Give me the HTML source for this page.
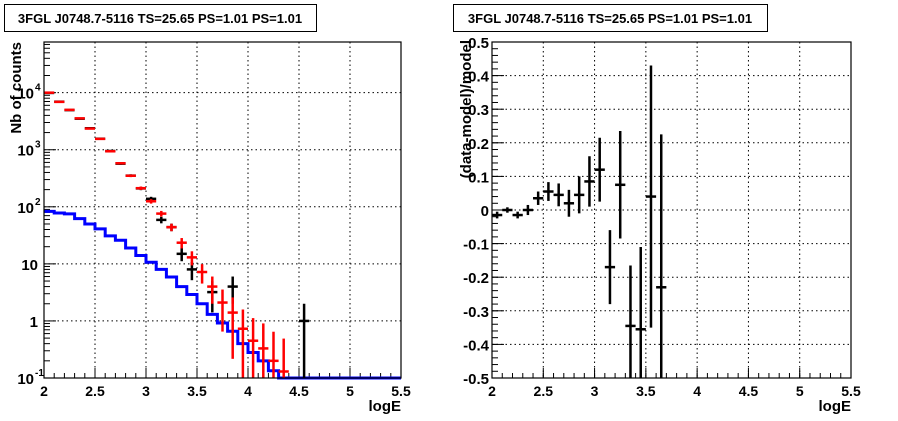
<!DOCTYPE html>
<html><head><meta charset="utf-8"><style>
html,body{margin:0;padding:0;background:#fff;}
svg{display:block;font-family:"Liberation Sans",Arial,sans-serif;font-weight:bold;}
</style></head><body>
<svg id="c" width="898" height="421" viewBox="0 0 898 421" xmlns="http://www.w3.org/2000/svg">
<rect x="0" y="0" width="898" height="421" fill="#fff"/>
<rect x="4.5" y="4.5" width="312" height="27" fill="#fff" stroke="#000"/>
<text x="160" y="23" font-size="13" text-anchor="middle">3FGL J0748.7-5116 TS=25.65 PS=1.01 PS=1.01</text>
<rect x="453.5" y="4.5" width="314" height="27" fill="#fff" stroke="#000"/>
<text x="610" y="23" font-size="13" text-anchor="middle">3FGL J0748.7-5116 TS=25.65 PS=1.01 PS=1.01</text>
<g id="L"></g>
<g id="R"></g>
</svg>
<script>
const binCenters=[2.05,2.15,2.25,2.35,2.45,2.55,2.65,2.75,2.85,2.95,3.05,3.15,3.25,3.35,3.45,3.55,3.65,3.75,3.85,3.95,4.05,4.15,4.25,4.35];
const modelCounts=[10000,6900,5000,3550,2350,1550,940,580,350,212,125,76,44,23.5,13,7.2,4,2.1,1.4,0.73,0.45,0.33,0.2,0.13];
const dataX=[2.05,2.15,2.25,2.35,2.45,2.55,2.65,2.75,2.85,2.95,3.05,3.15,3.25,3.35,3.45,3.65,3.85,4.55];
const dataCounts=[9900,6950,4950,3500,2380,1560,950,570,352,210,138,59,44,15,8,3.2,4,1];
const compEdges=[2.0,2.1,2.2,2.3,2.4,2.5,2.6,2.7,2.8,2.9,3.0,3.1,3.2,3.3,3.4,3.5,3.6,3.7,3.8,3.9,4.0,4.1,4.2,4.3,5.5];
const compValues=[83,78,75,62,50,41,31,26,19,14,10.7,8,5.9,4,2.9,2.0,1.3,0.92,0.66,0.4,0.28,0.2,0.134,0.1];
const resX=[2.05,2.15,2.25,2.35,2.45,2.55,2.65,2.75,2.85,2.95,3.05,3.15,3.25,3.35,3.45,3.55,3.65];
const resVal=[-0.015,0,-0.015,0,0.035,0.055,0.045,0.02,0.045,0.085,0.12,-0.17,0.075,-0.345,-0.355,0.04,-0.23];
const resErr=[0.01,0.008,0.01,0.015,0.02,0.028,0.034,0.04,0.055,0.075,0.095,0.11,0.16,0.18,0.245,0.39,0.455];
const xTicks=["2","2.5","3","3.5","4","4.5","5","5.5"];
const resTicks=["-0.5","-0.4","-0.3","-0.2","-0.1","0","0.1","0.2","0.3","0.4","0.5"];

const NS="http://www.w3.org/2000/svg";
function mk(p,t,a){const e=document.createElementNS(NS,t);for(const k in a)e.setAttribute(k,a[k]);p.appendChild(e);return e;}
const L=document.getElementById('L'),R=document.getElementById('R');
const LX0=44,LX1=401,LY0=42,LY1=378;
const lx=v=>LX0+(v-2)/3.5*(LX1-LX0);
const ymin=-1,ymax=4.888;
const ly=v=>{let l=Math.log10(Math.max(v,1e-3));l=Math.max(ymin,Math.min(ymax,l));return LY1-(l-ymin)/(ymax-ymin)*(LY1-LY0);};
const RX0=492,RX1=851,RY0=42,RY1=378;
const rx=v=>RX0+(v-2)/3.5*(RX1-RX0);
const ry=v=>{v=Math.max(-0.5,Math.min(0.5,v));return RY1-(v+0.5)*(RY1-RY0);};

function xAxis(g,X,Y0,Y1,cls){
  xTicks.forEach(t=>{const v=parseFloat(t),x=X(v);
    if(v>2&&v<5.5){const gl=mk(g,'line',{x1:x,x2:x,y1:Y0,y2:Y1,stroke:'#000','stroke-dasharray':'1.5,3','stroke-width':1});
    
    }
    mk(g,'line',{x1:x,x2:x,y1:Y1,y2:Y1-10,stroke:'#000'});
    const tx=mk(g,'text',{x:x,y:Y1+18,'font-size':14,'text-anchor':'middle'});tx.textContent=t;
    
    
  });
  for(let v=2.1;v<5.5;v+=0.1){const x=X(v);mk(g,'line',{x1:x,x2:x,y1:Y1,y2:Y1-5,stroke:'#000'});}
}
function frame(g,x0,y0,x1,y1,cls){const f=mk(g,'rect',{x:x0,y:y0,width:x1-x0,height:y1-y0,fill:'none',stroke:'#000','stroke-width':1.2});
  
  }

// ---- Left plot
xAxis(L,lx,LY0,LY1,'counts');
const decLabels=[["10","-1"],["1",""],["10",""],["10","2"],["10","3"],["10","4"]];
for(let d=-1;d<=4;d++){const y=ly(Math.pow(10,d));
  if(d>-1){const gl=mk(L,'line',{x1:LX0,x2:LX1,y1:y,y2:y,stroke:'#000','stroke-dasharray':'1.5,3'});
  
  }
  mk(L,'line',{x1:LX0,x2:LX0+12,y1:y,y2:y,stroke:'#000'});
  const lab=decLabels[d+1];
  const t=mk(L,'text',{x:lab[1]?34:38,y:y+6,'font-size':15,'text-anchor':'end'});t.textContent=lab[0];
  
  
  if(lab[1]){const s=mk(L,'text',{x:35,y:y-2,'font-size':10});s.textContent=lab[1];}
  for(let m=2;m<=9;m++){const v=m*Math.pow(10,d),yy=ly(v);if(yy>LY0)mk(L,'line',{x1:LX0,x2:LX0+6,y1:yy,y2:yy,stroke:'#000'});}
}
// blue component step
let d='';compValues.forEach((v,i)=>{const x0=lx(compEdges[i]),x1=lx(compEdges[i+1]),y=ly(v);d+=(i?'L':'M')+x0+','+y+'L'+x1+','+y;});
const bp=mk(L,'path',{d:d,fill:'none',stroke:'#0000ff','stroke-width':3});


function cross(g,X,xc,y,ylo,yhi,col,name){const gg=mk(g,'g',{});
  
  
  mk(gg,'line',{x1:X(xc-0.05),x2:X(xc+0.05),y1:y,y2:y,stroke:col,'stroke-width':2.5});
  mk(gg,'line',{x1:X(xc),x2:X(xc),y1:ylo,y2:yhi,stroke:col,'stroke-width':2.5});}
dataX.forEach((x,i)=>{const n=dataCounts[i],e=Math.sqrt(n);
  cross(L,lx,x,ly(n),ly(n+e),ly(Math.max(n-e,1e-3)),'#000','data-point');});
binCenters.forEach((x,i)=>{const n=modelCounts[i],e=Math.sqrt(n);
  cross(L,lx,x,ly(n),ly(n+e),ly(Math.max(n-e,1e-3)),'#ff0000','model-point');});
frame(L,LX0,LY0,LX1,LY1,'counts');
let t=mk(L,'text',{x:401,y:411,'font-size':15,'text-anchor':'end'});t.textContent='logE';


t=mk(L,'text',{x:0,y:0,'font-size':15,'text-anchor':'end',transform:'translate(21,42) rotate(-90)'});t.textContent='Nb of counts';



// ---- Right plot
xAxis(R,rx,RY0,RY1,'residual');
resTicks.forEach(s=>{const v=parseFloat(s),y=ry(v);
  if(v>-0.5&&v<0.5){const gl=mk(R,'line',{x1:RX0,x2:RX1,y1:y,y2:y,stroke:'#000','stroke-dasharray':'1.5,3'});
  
  }
  mk(R,'line',{x1:RX0,x2:RX0+12,y1:y,y2:y,stroke:'#000'});
  const tx=mk(R,'text',{x:489,y:y+6,'font-size':15,'text-anchor':'end'});tx.textContent=s;
  
  });
for(let v=-0.48;v<0.5;v+=0.02){const y=ry(v);mk(R,'line',{x1:RX0,x2:RX0+6,y1:y,y2:y,stroke:'#000'});}
resX.forEach((x,i)=>{const v=resVal[i],e=resErr[i];
  cross(R,rx,x,ry(v),ry(v+e),ry(v-e),'#000','residual-point');});
frame(R,RX0,RY0,RX1,RY1,'residual');
t=mk(R,'text',{x:851,y:411,'font-size':15,'text-anchor':'end'});t.textContent='logE';


t=mk(R,'text',{x:0,y:0,'font-size':15,'text-anchor':'end',transform:'translate(471,40) rotate(-90)'});t.textContent='(data-model)/model';


</script>
</body></html>
